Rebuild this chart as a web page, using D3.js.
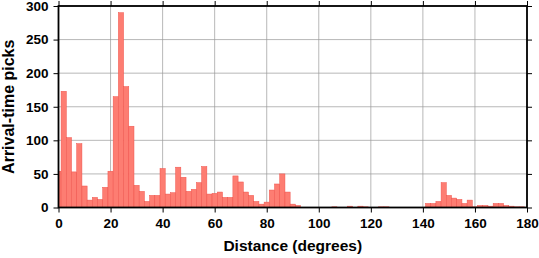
<!DOCTYPE html>
<html>
<head>
<meta charset="utf-8">
<script src="https://cdn.jsdelivr.net/npm/d3@7"></script>
<style>
  html, body { margin: 0; padding: 0; background: #fff; }
  svg { display: block; }
  text { font-family: "Liberation Sans", Arial, Helvetica, sans-serif; font-weight: bold; fill: #000; }
</style>
</head>
<body>
<svg id="chart" width="539" height="258"></svg>
<script>
// Bin centers (degrees), bin width 2 degrees
const binCenters = d3.range(0, 182, 2);
// Counts per bin
const counts = [
  54, 173, 104, 53, 95, 32, 11, 15, 12, 30,      // 0-18
  54, 165, 290, 180, 121, 33, 24, 9, 18, 18,     // 20-38
  58, 20, 22, 60, 45, 24, 27, 37, 61, 20,        // 40-58
  21, 23, 15, 15, 47, 38, 23, 18, 9, 5,          // 60-78
  8, 26, 35, 50, 23, 5, 3, 0, 0, 0,              // 80-98
  0, 0, 0, 1, 0, 0, 2, 0, 2, 1,                  // 100-118
  0, 0, 1, 1, 0, 0, 0, 0, 0, 0,                  // 120-138
  0, 6, 6, 9, 37, 18, 14, 12, 6, 11,             // 140-158
  1, 3, 3, 2, 6, 6, 3, 2, 1, 1,                  // 160-178
  0                                              // 180
];
const xTicks = [0, 20, 40, 60, 80, 100, 120, 140, 160, 180];
const yTicks = [0, 50, 100, 150, 200, 250, 300];
const xTitle = "Distance (degrees)";
const yTitle = "Arrival-time picks";

const svg = d3.select("#chart");
const L = 58.5, R = 527, T = 6, B = 207.5;
const x = d3.scaleLinear().domain([0, 180]).range([L, R]);
const y = d3.scaleLinear().domain([0, 300]).range([B, T]);

// grid
const grid = svg.append("g");
grid.selectAll("line.v").data(xTicks).enter().append("line")
  .attr("x1", d => x(d)).attr("x2", d => x(d)).attr("y1", T).attr("y2", B)
  .attr("stroke", "#9a9a9a").attr("stroke-width", 0.7);
grid.selectAll("line.h").data(yTicks).enter().append("line")
  .attr("x1", L).attr("x2", R).attr("y1", d => y(d)).attr("y2", d => y(d))
  .attr("stroke", "#9a9a9a").attr("stroke-width", 0.7);

// bars
const bars = binCenters.map((c, i) => ({c, v: counts[i]})).filter(d => d.v > 0);
svg.append("g").selectAll("rect").data(bars).enter().append("rect")
  .attr("x", d => x(Math.max(0, d.c - 1)))
  .attr("width", d => x(Math.min(180, d.c + 1)) - x(Math.max(0, d.c - 1)))
  .attr("y", d => y(d.v))
  .attr("height", d => y(0) - y(d.v))
  .attr("fill", "#fd7d72")
  .attr("stroke", "#f0524b")
  .attr("stroke-width", 0.5);

// axes
const fs = "13.5px";
const ax = svg.append("g").attr("transform", `translate(0,${B})`)
  .call(d3.axisBottom(x).tickValues(xTicks).tickSize(5).tickPadding(6).tickFormat(d3.format("d")));
ax.select(".domain").remove();
ax.selectAll("text").style("font-size", fs).style("font-family", "Liberation Sans, Arial, sans-serif").style("font-weight", "bold").attr("fill", "#000");
ax.selectAll("line").attr("stroke", "#000").attr("stroke-width", 1);

const axT = svg.append("g").attr("transform", `translate(0,${T})`)
  .call(d3.axisTop(x).tickValues(xTicks).tickSize(5).tickFormat(""));
axT.select(".domain").remove();
axT.selectAll("line").attr("stroke", "#000").attr("stroke-width", 1);

const ay = svg.append("g").attr("transform", `translate(${L},0)`)
  .call(d3.axisLeft(y).tickValues(yTicks).tickSize(5).tickPadding(5).tickFormat(d3.format("d")));
ay.select(".domain").remove();
ay.selectAll("text").style("font-size", fs).style("font-family", "Liberation Sans, Arial, sans-serif").style("font-weight", "bold").attr("fill", "#000");
ay.selectAll("line").attr("stroke", "#000").attr("stroke-width", 1);

const ayR = svg.append("g").attr("transform", `translate(${R},0)`)
  .call(d3.axisRight(y).tickValues(yTicks).tickSize(5).tickFormat(""));
ayR.select(".domain").remove();
ayR.selectAll("line").attr("stroke", "#000").attr("stroke-width", 1);

// frame
svg.append("rect").attr("x", L).attr("y", T).attr("width", R - L).attr("height", B - T)
  .attr("fill", "none").attr("stroke", "#000").attr("stroke-width", 1.8);

// titles
svg.append("text").attr("x", (L + R) / 2).attr("y", 251)
  .attr("text-anchor", "middle").style("font-size", "15.5px").text(xTitle);
svg.append("text").attr("transform", `translate(14,${(T + B) / 2}) rotate(-90)`)
  .attr("text-anchor", "middle").style("font-size", "16px").text(yTitle);
</script>
</body>
</html>
